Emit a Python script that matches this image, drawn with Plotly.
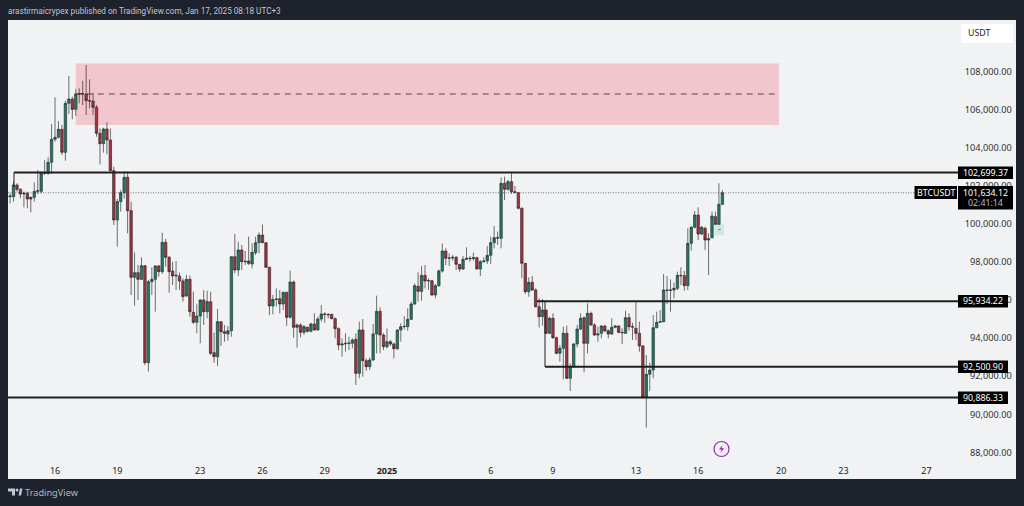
import pandas as pd
import plotly.graph_objects as go

dates = pd.date_range("2024-12-13 20:00", periods=207, freq="4h")

opens = [101429,101429,102042,101814,101569,101604,101394,101394,101709,101709,102654,102654,103231,104439,104544,104964,103756,106329,106556,106014,106819,106840,106819,106469,106450,106119,104754,104211,104981,104404,102794,100204,101166,101639,102444,100694,97194,97439,97089,97806,92714,96966,97089,97789,97491,99031,98244,
97526,97264,97264,97001,96214,97089,95356,94831,95164,96004,95391,95916,93239,93029,94866,94341,94219,94394,98279,97579,98629,98016,98051,97894,98489,99014,99416,99014,97719,95689,96039,96074,95794,96406,95094,96949,94569,94691,94306,94569,94359,94744,94429,95006,95269,95251,95251,95024,94499,
93641,93694,93729,93729,93939,92154,94429,92819,92504,92854,94219,95409,94166,93554,93816,93694,93449,94429,94604,94604,94989,95794,96721,96459,97299,97001,97019,96266,96756,97526,98576,98191,98209,98244,97876,97631,98139,98191,98174,98226,97631,98016,98051,98349,99014,99276,99241,102129,101814,102216,101691,101639,100816,97929,96441,
96931,96529,95654,95129,95479,94254,95041,94026,93204,93466,94254,91891,92504,93694,94481,95076,93729,95304,94691,94166,94254,94639,94394,94219,94569,94639,94306,94254,95076,94604,94516,94254,93589,90894,92101,92329,94551,94831,94866,
96529,96510,96529,96616,97299,97281,96756,98979,99819,100466,99469,99766,99154,99276,100379,99976,101026]
highs = [101604,102216,102129,101866,101691,101691,101429,102181,102829,102741,103354,103494,105244,106644,105401,105191,106469,107764,106679,107064,107116,107519,108341,107589,106889,106241,105016,105051,105331,105016,103004,101306,101779,102741,102741,101166,98506,97841,98244,97841,97054,97719,97841,97841,99539,99206,98314,
98016,98051,97439,97141,97316,97281,96441,95776,96039,96529,96494,96441,94289,95531,94870,94691,94639,98290,99469,99066,98891,98576,99329,98979,99329,99556,99959,99030,97754,96266,96616,96529,96441,96441,97544,97019,94779,94779,94691,94604,94814,95304,95129,95741,95356,95304,95286,95094,94569,
93991,94254,94079,93991,94254,94866,95006,92941,92994,94744,96231,95619,94254,94516,93904,93764,94464,94779,95164,95566,95916,96879,97456,97789,97841,97141,97054,96844,97614,98979,98716,98454,98366,98314,97894,98314,98769,98314,98489,98279,98104,98244,98839,99329,99889,99591,102444,102479,102304,102654,101989,101674,100869,97929,97194,
97264,96616,96091,96056,95479,95129,95304,94079,93641,94604,94656,92679,93729,94691,95304,95129,95829,95391,94779,94604,94691,94691,94464,95041,94691,94674,94516,95444,95304,94814,95916,94866,93641,93116,92714,95216,95391,95479,97369,
97264,97089,96914,97491,97719,97526,99766,99889,100676,100869,99889,99854,99504,100641,100641,102129,101779]
lows = [101079,101166,101691,101341,100869,100816,100606,101166,101569,101604,102566,102566,102619,104316,104491,103616,103319,105769,105489,105664,106329,106241,105716,106066,105716,104579,103126,103739,103651,102741,99941,98804,100641,101341,99504,96266,95706,96004,97054,92591,92241,96266,95391,97229,97369,97754,96389,
96791,96529,96529,95916,96179,95129,94744,94254,93729,94691,95041,93116,92714,92539,93589,93816,93869,94079,97404,97264,97579,97841,97841,97666,98366,98454,98979,97700,95216,95251,95654,95304,95479,94656,95041,94026,93501,94044,94166,94289,94306,94394,94394,94866,94814,95041,94989,93991,93379,
93029,93291,93379,93466,91541,91891,91979,92294,92329,92819,93204,93204,93379,93466,93589,92941,93379,93816,94464,94394,94954,95741,95916,95969,96616,96529,96231,96091,96704,97439,97841,97789,98069,97579,97491,97579,98104,98016,98069,97614,97264,97964,97894,97894,98716,98891,98716,101254,101744,101569,101604,100764,97141,96319,96179,
96494,95601,94569,94656,94219,94219,93956,93151,92766,91839,91856,91226,92469,93519,94429,92206,93204,94656,94114,93816,93991,94341,93991,94166,94516,94254,93694,94219,94394,93904,93904,93291,90841,89301,91226,91891,94516,94831,94831,
95794,95391,96091,96529,96791,96494,96529,98594,99766,99154,99416,98629,97316,99241,99941,99941,100991]
closes = [101464,102042,101814,101569,101604,101306,101306,101709,101744,102654,102689,103231,104439,104544,104964,103756,106329,106556,106014,106819,106840,106819,106469,106450,106119,104754,104211,104981,104404,102794,100204,101166,101639,102444,100694,97194,97439,97089,97806,92714,96966,97089,97789,97491,99031,98244,97491,
97264,97299,97001,96179,97089,95391,94831,95164,96004,95391,95916,93204,93029,94866,94341,94254,94394,98279,97579,98629,98016,98034,97929,98506,99014,99416,99014,97719,95689,96039,96056,95794,96406,95094,96949,94569,94691,94306,94604,94359,94744,94429,95006,95269,95251,95234,95024,94499,93641,
93694,93729,93746,93904,92154,94429,92819,92504,92854,94219,95409,94166,93554,93816,93694,93449,94429,94604,94620,94989,95794,96756,96459,97299,97001,97019,96266,96756,97526,98576,98191,98209,98244,97876,97631,98139,98191,98174,98226,97631,98016,98051,98349,99014,99276,99259,102129,101814,102216,101691,101656,100816,97929,96441,96931,
96529,95654,95129,95479,94254,95041,94026,93204,93466,94254,91891,92504,93694,94481,95041,93729,95304,94691,94166,94219,94639,94376,94219,94569,94639,94306,94289,95076,94604,94586,94254,93589,90894,92101,92329,94551,94831,94866,96529,
96510,96529,96616,97299,97281,96756,98979,99819,100466,99469,99819,99154,99224,100414,99976,101026,101634]

hlevels = [102699.37, 95934.22, 92500.90, 90886.33]
hlabels = ["102,699.37", "95,934.22", "92,500.90", "90,886.33"]
ytick_vals = [88000, 90000, 92000, 94000, 96000, 98000, 100000, 102000, 104000, 106000, 108000]
ytick_text = ["88,000.00", "90,000.00", "92,000.00", "94,000.00", "96,000.00", "98,000.00", "100,000.00", "102,000.00", "104,000.00", "106,000.00", "108,000.00"]
xtick_vals = ["2024-12-16", "2024-12-19", "2024-12-23", "2024-12-26", "2024-12-29", "2025-01-01", "2025-01-06", "2025-01-09", "2025-01-13", "2025-01-16", "2025-01-20", "2025-01-23", "2025-01-27"]
xtick_text = ["16", "19", "23", "26", "29", "<b>2025</b>", "6", "9", "13", "16", "20", "23", "27"]

FONT = "Noto Sans"
BG = "#1e222d"
PANEL = "#f0f2f4"
W, H = 1024, 506
L, R, T, B = 8, 1016, 20, 479

def px(v):
    return (v - L) / (R - L)
def py(v):
    return 1 - (v - T) / (B - T)

fig = go.Figure(go.Candlestick(
    x=dates, open=opens, high=highs, low=lows, close=closes,
    increasing=dict(line=dict(color="#2d3a38", width=0.7), fillcolor="#1f7a63"),
    decreasing=dict(line=dict(color="#3a2a2c", width=0.7), fillcolor="#a3343f"),
    whiskerwidth=0, showlegend=False, hoverinfo="skip",
))

shapes = [
    dict(type="rect", x0="2024-12-17 00:00", x1="2025-01-19 21:30", y0=105191, y1=108420,
         fillcolor="#f2c6cd", line_width=0, layer="below"),
    dict(type="line", x0="2024-12-17 00:00", x1="2025-01-19 21:30", y0=106819, y1=106819,
         line=dict(color="#3a2025", width=0.8, dash="6px,5px")),
    dict(type="line", xref="paper", x0=0, x1=px(915), y0=101634.12, y1=101634.12,
         line=dict(color="#777777", width=1, dash="1px,1.5px"), layer="below"),
    dict(type="line", xref="paper", x0=px(14), x1=px(958), y0=102699.37, y1=102699.37,
         line=dict(color="#1f1f1f", width=2)),
    dict(type="line", xref="paper", x0=px(14), x1=px(14), y0=101950, y1=102699.37,
         line=dict(color="#1f1f1f", width=1)),
    dict(type="line", xref="paper", x0=px(537), x1=px(958), y0=95934.22, y1=95934.22,
         line=dict(color="#1f1f1f", width=2)),
    dict(type="line", xref="paper", x0=px(545), x1=px(545), y0=92500.90, y1=95934.22,
         line=dict(color="#1f1f1f", width=1)),
    dict(type="line", xref="paper", x0=px(545), x1=px(958), y0=92500.90, y1=92500.90,
         line=dict(color="#1f1f1f", width=2)),
    dict(type="line", xref="paper", x0=0, x1=px(958), y0=90886.33, y1=90886.33,
         line=dict(color="#1f1f1f", width=2)),
    # lightning marker
    dict(type="circle", xsizemode="pixel", ysizemode="pixel", xanchor="2025-01-17 03:00", yanchor=88181,
         x0=-7.5, x1=7.5, y0=-7.5, y1=7.5, line=dict(color="#9c27b0", width=1.2), fillcolor="rgba(0,0,0,0)"),
    dict(type="path", xsizemode="pixel", ysizemode="pixel", xanchor="2025-01-17 03:00", yanchor=88181,
         path="M 1 4 L -2.5 -0.5 L 0 -0.5 L -1 -4 L 2.5 0.8 L 0 0.8 Z", fillcolor="#9c27b0", line_width=0),
    # small teal tag near the last candles
    dict(type="rect", x0="2025-01-16 19:00", x1="2025-01-17 06:00", y0=99400, y1=100000,
         fillcolor="#cfe8e3", line_width=0, layer="below"),
    dict(type="line", x0="2025-01-16 23:00", x1="2025-01-17 02:00", y0=99700, y1=99700,
         line=dict(color="#4c8f82", width=1)),
    # TradingView logo
    dict(type="path", xref="paper", yref="paper",
         path=f"M {px(8)} {py(488.5)} L {px(15)} {py(488.5)} L {px(15)} {py(495.5)} L {px(12)} {py(495.5)} L {px(12)} {py(491.5)} L {px(8)} {py(491.5)} Z",
         fillcolor="#c3c6ce", line_width=0),
    dict(type="circle", xref="paper", yref="paper", x0=px(15.5), x1=px(18.5), y0=py(491.5), y1=py(488.5),
         fillcolor="#c3c6ce", line_width=0),
    dict(type="path", xref="paper", yref="paper",
         path=f"M {px(18.5)} {py(495.5)} L {px(20)} {py(488.5)} L {px(22.5)} {py(488.5)} L {px(21)} {py(495.5)} Z",
         fillcolor="#c3c6ce", line_width=0),
]

def label(x0, x1, y0, y1):
    return dict(type="rect", xref="paper", yref="paper", x0=px(x0), x1=px(x1), y0=py(y1), y1=py(y0),
                fillcolor="#000000", line_width=0, layer="above")

def text(x, y, s, size=8.8, color="#ffffff", anchor="center", family=FONT):
    return dict(xref="paper", yref="paper", x=(x - L) / (R - L), y=py(y), text=s, showarrow=False,
                xanchor=anchor, yanchor="middle", font=dict(family=family, size=size, color=color))

ann = []
boxes = [(958, 1013, 166.5, 179), (958, 1008, 295, 307.5), (958, 1008, 360.5, 373), (958, 1008, 391.5, 404)]
for (x0, x1, y0, y1), s in zip(boxes, hlabels):
    shapes.append(label(x0, x1, y0, y1))
    ann.append(text((x0 + x1) / 2, (y0 + y1) / 2, s))
shapes.append(label(914.5, 957, 186, 199))
ann.append(text(935.5, 192.5, "BTCUSDT"))
shapes.append(label(958, 1013, 186, 209.5))
ann.append(text(985.5, 192.5, "101,634.12"))
ann.append(text(985.5, 203, "02:41:14", color="#b8bcc6"))
shapes.append(dict(type="rect", xref="paper", yref="paper", x0=px(961), x1=px(1013), y0=py(43), y1=py(24),
                   fillcolor="#ffffff", line_width=0, layer="above"))
ann.append(text(966, 33, "USDT", color="#222222", anchor="left"))
ann.append(text(6, 11.5, "arastirmaicrypex published on TradingView.com, Jan 17, 2025 08:18 UTC+3",
                size=8.17, color="#c3c6ce", anchor="left", family="Roboto"))
ann.append(text(23, 492.5, "TradingView", size=9.2, color="#b4b7bf", anchor="left"))

fig.update_layout(
    width=W, height=H, autosize=False,
    margin=dict(l=L, r=W - R, t=T, b=H - B),
    paper_bgcolor=BG, plot_bgcolor=PANEL,
    shapes=shapes, annotations=ann, showlegend=False, boxgap=0.0,
    xaxis=dict(
        type="date", range=["2024-12-13 17:36", "2025-01-31 07:40"],
        rangeslider=dict(visible=False), showgrid=False, zeroline=False,
        tickmode="array", tickvals=xtick_vals, ticktext=xtick_text, ticklabelposition="inside",
        tickfont=dict(family=FONT, size=9, color="#222222"), ticks="", showline=False,
    ),
    yaxis=dict(
        side="right", range=[86606, 110704], showgrid=False, zeroline=False,
        tickmode="array", tickvals=ytick_vals, ticktext=ytick_text, ticklabelposition="inside",
        tickfont=dict(family=FONT, size=9.2, color="#333333"), ticks="inside", ticklen=3,
        tickcolor="rgba(0,0,0,0)", showline=False,
    ),
)
fig.write_html("out.html", config=dict(displayModeBar=False),
               post_script="document.body.style.margin='0';document.body.style.background='#1e222d';document.documentElement.style.overflow='hidden';")
